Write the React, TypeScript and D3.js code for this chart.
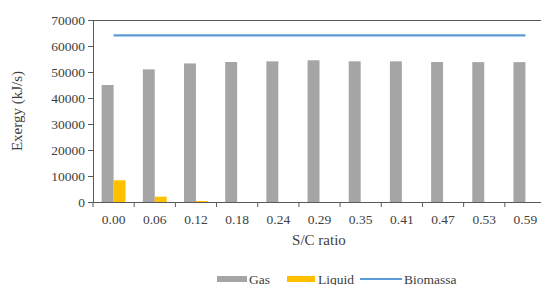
import { useEffect, useRef } from 'react'
import * as d3 from 'd3'

const categories = ['0.00', '0.06', '0.12', '0.18', '0.24', '0.29', '0.35', '0.41', '0.47', '0.53', '0.59']
const gasValues = [45000, 51000, 53300, 53850, 54100, 54500, 54100, 54100, 53850, 53800, 53800]
const liquidValues = [8350, 2050, 400, 0, 0, 0, 0, 0, 0, 0, 0]
const biomassaValues = [64100, 64100, 64100, 64100, 64100, 64100, 64100, 64100, 64100, 64100, 64100]
const yTicks = [0, 10000, 20000, 30000, 40000, 50000, 60000, 70000]

const width = 541
const height = 285
const margin = { top: 20, right: -5, bottom: 83, left: 93 }
const font = '"Liberation Serif", "Times New Roman", serif'
const axisColor = '#595959'

const App = () => {
  const xAxisRef = useRef<SVGGElement>(null)
  const yAxisRef = useRef<SVGGElement>(null)

  const xScale = d3
    .scaleBand()
    .domain(categories)
    .range([margin.left, width - margin.right])

  const yScale = d3
    .scaleLinear()
    .domain([0, 70000])
    .range([height - margin.bottom, margin.top])

  const bw = xScale.bandwidth() * 0.29
  const center = (c: string) => (xScale(c) as number) + xScale.bandwidth() / 2

  const line = d3
    .line<number>()
    .x((_, i) => center(categories[i]))
    .y(d => yScale(d))

  useEffect(() => {
    if (yAxisRef.current) {
      const g = d3.select(yAxisRef.current)
      g.call(d3.axisLeft(yScale).tickValues(yTicks).tickSize(5).tickPadding(3).tickFormat(d3.format('d')))
      g.selectAll('path, line').attr('stroke', axisColor)
      g.selectAll('text')
        .attr('font-family', font)
        .attr('font-size', 13.5)
        .attr('fill', '#404040')
    }
    if (xAxisRef.current) {
      const g = d3.select(xAxisRef.current)
      g.call(d3.axisBottom(xScale).tickSize(0).tickPadding(12))
      g.select('.domain').attr('stroke', axisColor)
      g.selectAll('text')
        .attr('font-family', font)
        .attr('font-size', 13.5)
        .attr('fill', '#404040')
      // tick marks at category boundaries
      g.selectAll('.bound').remove()
      g.selectAll('.bound')
        .data([...categories.map(c => xScale(c) as number), width - margin.right])
        .enter()
        .append('line')
        .attr('class', 'bound')
        .attr('x1', d => d)
        .attr('x2', d => d)
        .attr('y1', 0)
        .attr('y2', 5)
        .attr('stroke', axisColor)
    }
  }, [])

  const yBase = yScale(0)

  return (
    <svg width={width} height={height} style={{ position: 'absolute', left: 0, top: 0, background: '#fff' }}>
      <line
        x1={margin.left}
        x2={width}
        y1={margin.top + 0.5}
        y2={margin.top + 0.5}
        stroke={axisColor}
      />
      {categories.map((c, i) => (
        <g key={c}>
          <rect
            x={center(c) - bw}
            y={yScale(gasValues[i])}
            width={bw}
            height={yBase - yScale(gasValues[i])}
            fill="#A5A5A5"
          />
          <rect
            x={center(c)}
            y={yScale(liquidValues[i])}
            width={bw}
            height={yBase - yScale(liquidValues[i])}
            fill="#FFC000"
          />
        </g>
      ))}
      <path d={line(biomassaValues) ?? ''} fill="none" stroke="#5B9BD5" strokeWidth={2.2} />
      <g ref={yAxisRef} transform={`translate(${margin.left}, 0)`} />
      <g ref={xAxisRef} transform={`translate(0, ${yBase})`} />
      <text
        transform={`translate(17, ${(margin.top + yBase) / 2}) rotate(-90)`}
        textAnchor="middle"
        dominantBaseline="central"
        fontFamily={font}
        fontSize={15}
        fill="#404040"
      >
        Exergy (kJ/s)
      </text>
      <text x={319} y={240} textAnchor="middle" dominantBaseline="central" fontFamily={font} fontSize={15} fill="#404040">
        S/C ratio
      </text>
      <g fontFamily={font} fontSize={13.5} fill="#404040">
        <rect x={217} y={276} width={30} height={6} fill="#A5A5A5" />
        <text x={249} y={279} dominantBaseline="central">Gas</text>
        <rect x={287} y={276} width={28} height={6} fill="#FFC000" />
        <text x={318} y={279} dominantBaseline="central">Liquid</text>
        <line x1={360} x2={402} y1={279} y2={279} stroke="#5B9BD5" strokeWidth={2.2} />
        <text x={404} y={279} dominantBaseline="central">Biomassa</text>
      </g>
    </svg>
  )
}

export default App
